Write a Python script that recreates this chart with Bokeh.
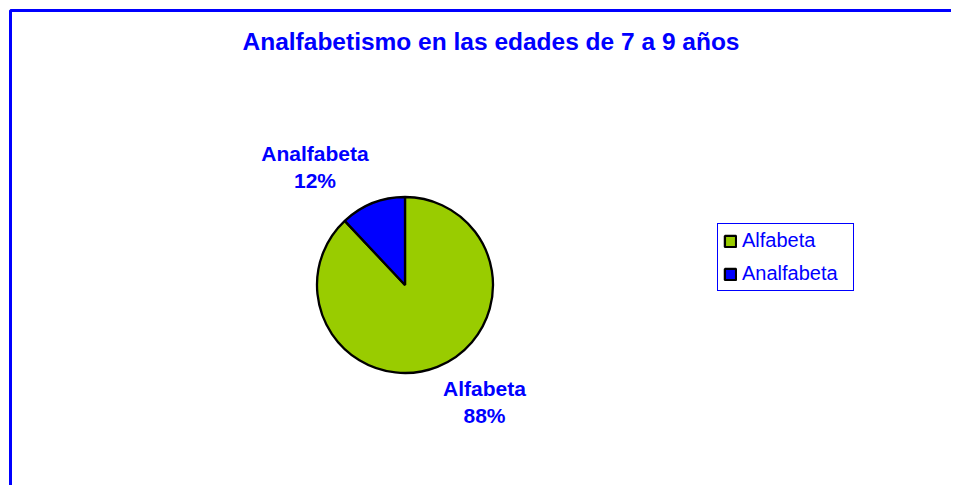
import numpy as np
from bokeh.plotting import figure
from bokeh.models import ColumnDataSource, Range1d, BoxAnnotation
from bokeh.core.properties import value
from bokeh.embed import file_html
from bokeh.resources import INLINE

# ---- data ----
categories = ["Alfabeta", "Analfabeta"]
values = [88, 12]
colors = ["#99CC00", "#0000FF"]
title_text = "Analfabetismo en las edades de 7 a 9 años"

# ---- layout (pixel-like units) ----
W, H = 951, 485
CX, CY, R = 404.5, 200.5, 88
LABEL_OFFSET = {"Alfabeta": (79.5, -103), "Analfabeta": (-90, 132)}
LINE_GAP = 27.5
BLUE = "#0000FF"
FONT = "Liberation Sans"

vals = np.array(values, dtype=float)
frac = vals / vals.sum()
cum = np.concatenate([[0], np.cumsum(frac)])
# clockwise from 12 o'clock, as in the original
a0 = np.pi / 2 - 2 * np.pi * cum[:-1]
a1 = np.pi / 2 - 2 * np.pi * cum[1:]
src = ColumnDataSource(dict(category=categories, start=a1, end=a0, color=colors))

p = figure(width=W, height=H, output_backend="svg", toolbar_location=None,
           x_range=Range1d(0, W), y_range=Range1d(0, H), min_border=0,
           x_axis_type=None, y_axis_type=None, tools="")
p.grid.visible = False
p.outline_line_color = None
p.background_fill_color = "white"
p.border_fill_color = "white"

# chart border (right and bottom edges fall outside the visible area)
p.add_layout(BoxAnnotation(left=10, top=H - 10, right=W + 40, bottom=-40,
                           fill_alpha=0, line_color=BLUE, line_alpha=1.0,
                           line_width=3, level="underlay"))

p.wedge(x=CX, y=CY, radius=R, start_angle="start", end_angle="end",
        fill_color="color", line_color="black", line_width=2.3,
        source=src, legend_field="category")

# title
p.text(x=[490.5], y=[444], text=[title_text], text_font=value(FONT),
       text_font_style="bold", text_font_size="24.5px", text_color=BLUE,
       text_align="center", text_baseline="middle")

# data labels
lx, ly1, ly2, names, pcts = [], [], [], [], []
for c, f in zip(categories, frac):
    dx, dy = LABEL_OFFSET[c]
    lx.append(CX + dx)
    ly1.append(CY + dy)
    ly2.append(CY + dy - LINE_GAP)
    names.append(c)
    pcts.append(f"{f * 100:.0f}%")
for ys, txt in ((ly1, names), (ly2, pcts)):
    p.text(x=lx, y=ys, text=txt, text_font=value(FONT), text_font_style="bold",
           text_font_size="21px", text_color=BLUE, text_align="center",
           text_baseline="middle")

lg = p.legend[0]
lg.location = (717, 194)
lg.label_text_font = FONT
lg.label_text_font_size = "20px"
lg.label_text_color = BLUE
lg.glyph_width = 14
lg.glyph_height = 14
lg.label_standoff = 5
lg.label_width = 106
lg.spacing = 10
lg.padding = 5
lg.margin = 0
lg.border_line_color = BLUE
lg.border_line_width = 1
lg.border_line_alpha = 1
lg.background_fill_color = "white"
lg.background_fill_alpha = 1

open("out.html", "w").write(file_html(p, INLINE))
